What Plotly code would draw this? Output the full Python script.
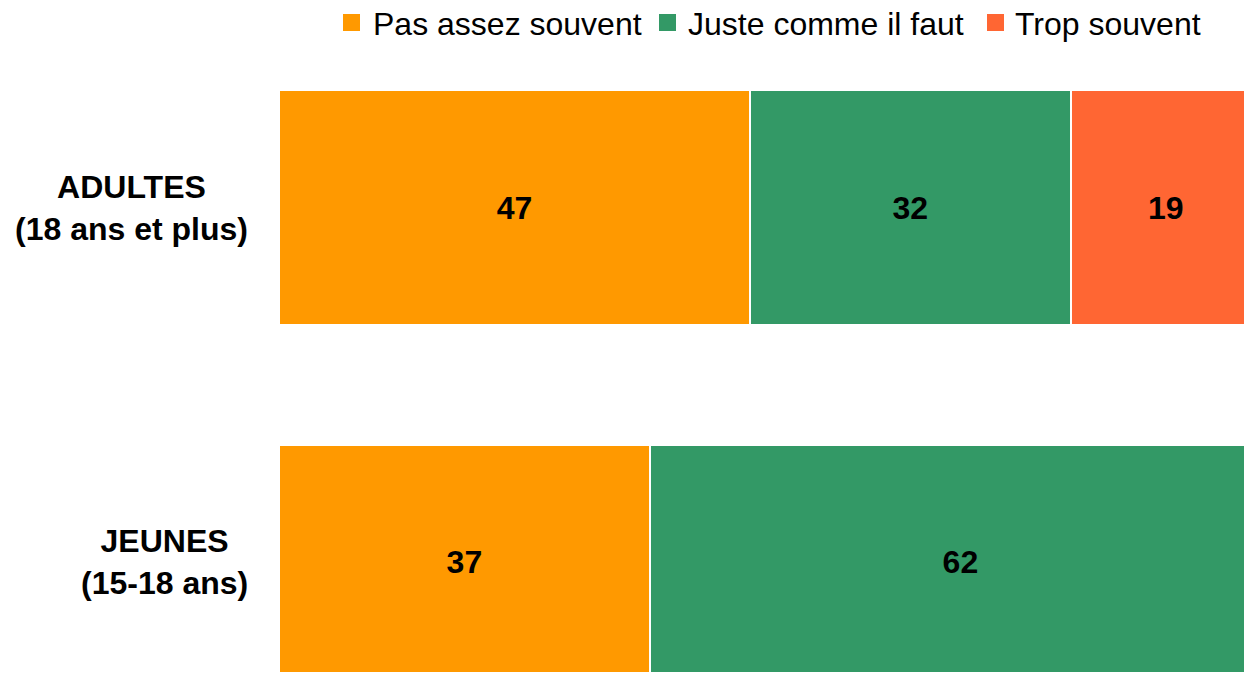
import plotly.graph_objects as go

categories = ["JEUNES<br>(15-18 ans)", "ADULTES<br>(18 ans et plus)"]
series_names = ["Pas assez souvent", "Juste comme il faut", "Trop souvent"]
pas_assez = [37, 47]
juste = [62, 32]
trop = [None, 19]
colors = ["#FF9900", "#339966", "#FF6633"]

ypos = list(range(len(categories)))
FONT = "Liberation Sans, Arial, sans-serif"

W, H = 1244, 673
ML, MR, MT, MB = 279, 0, 60, 1
PW, PH = W - ML - MR, H - MT - MB


def px_x(px):
    return (px - ML) / PW


def px_y(py):
    return (H - MB - py) / PH


fig = go.Figure()
for name, vals, col in zip(series_names, [pas_assez, juste, trop], colors):
    fig.add_trace(go.Bar(
        y=ypos, x=vals, name=name, orientation="h",
        marker=dict(color=col, line=dict(color="white", width=2)),
        width=0.662, showlegend=False, hoverinfo="skip",
        text=[None if v is None else str(v) for v in vals],
        textposition="inside", insidetextanchor="middle",
        textangle=0, constraintext="none",
        textfont=dict(family=FONT, size=32, color="black", weight="bold"),
    ))

for yv, lab in zip(ypos, categories):
    fig.add_annotation(
        x=px_x(250), xref="paper", y=yv, yref="y", text=lab, showarrow=False,
        xanchor="right", yanchor="middle", align="center",
        font=dict(family=FONT, size=32, color="black", weight="bold"),
    )

# manual legend
legend_sq_x = [343, 659, 987]
legend_txt_x = [373, 688, 1015]
for name, col, sx, tx in zip(series_names, colors, legend_sq_x, legend_txt_x):
    fig.add_shape(type="rect", xref="paper", yref="paper",
                  x0=px_x(sx), x1=px_x(sx + 17), y0=px_y(31), y1=px_y(14),
                  fillcolor=col, line=dict(width=0))
    fig.add_annotation(x=px_x(tx - 2), xref="paper", y=px_y(24), yref="paper",
                       text=name, showarrow=False, xanchor="left", yanchor="middle",
                       font=dict(family=FONT, size=32, color="black"))

fig.update_layout(
    barmode="stack",
    width=W, height=H,
    margin=dict(l=ML, r=MR, t=MT, b=MB, pad=0),
    plot_bgcolor="white", paper_bgcolor="white",
    showlegend=False,
    xaxis=dict(range=[0, 96.3], visible=False, fixedrange=True),
    yaxis=dict(range=[-0.3085, 1.4155], visible=False, fixedrange=True),
)

fig.write_html("out.html", config={"displayModeBar": False},
               post_script="document.body.style.margin='0';")
